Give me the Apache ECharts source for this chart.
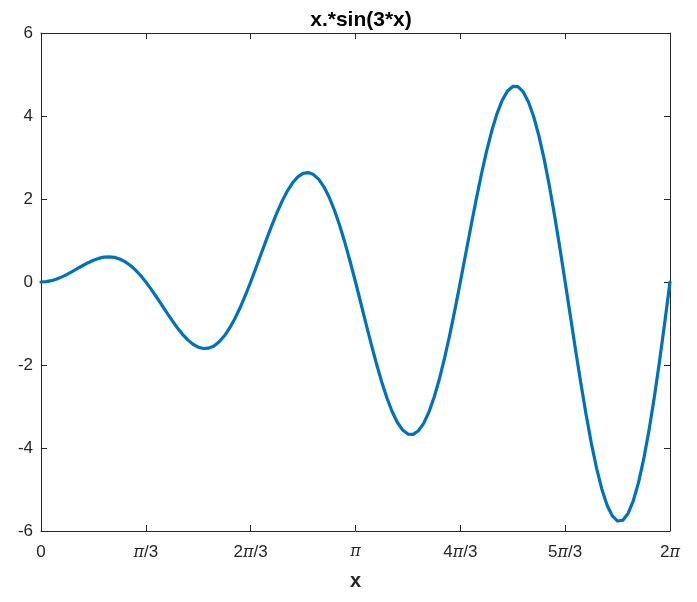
<!DOCTYPE html>
<html><head><meta charset="utf-8">
<script src="https://cdn.jsdelivr.net/npm/echarts@6/dist/echarts.min.js"></script>
<style>html,body{margin:0;padding:0;background:#fff}#c{width:697px;height:602px}</style>
</head><body><div id="c"></div>
<script>
const titleText = 'x.*sin(3*x)';
const xLabelText = 'x';
const xValues = [0,0.0524,0.1047,0.1571,0.2094,0.2618,0.3142,0.3665,0.4189,0.4712,0.5236,0.5760,0.6283,0.6807,0.7330,0.7854,0.8378,0.8901,0.9425,0.9948,1.0472,1.0996,1.1519,1.2043,1.2566,1.3090,1.3614,1.4137,1.4661,1.5184,1.5708,1.6232,1.6755,1.7279,1.7802,1.8326,1.8850,1.9373,1.9897,2.0420,2.0944,2.1468,2.1991,2.2515,2.3038,2.3562,2.4086,2.4609,2.5133,2.5656,2.6180,2.6704,2.7227,2.7751,2.8274,2.8798,2.9322,2.9845,3.0369,3.0892,3.1416,3.1940,3.2463,3.2987,3.3510,3.4034,3.4558,3.5081,3.5605,3.6128,3.6652,3.7176,3.7699,3.8223,3.8746,3.9270,3.9794,4.0317,4.0841,4.1364,4.1888,4.2412,4.2935,4.3459,4.3982,4.4506,4.5029,4.5553,4.6077,4.6600,4.7124,4.7648,4.8171,4.8695,4.9218,4.9742,5.0265,5.0789,5.1313,5.1836,5.2360,5.2884,5.3407,5.3931,5.4454,5.4978,5.5501,5.6025,5.6549,5.7072,5.7596,5.8120,5.8643,5.9167,5.9690,6.0214,6.0737,6.1261,6.1785,6.2308,6.2832];
const yValues = [0,0.008,0.032,0.071,0.123,0.185,0.254,0.327,0.398,0.465,0.524,0.569,0.598,0.606,0.593,0.555,0.492,0.404,0.291,0.156,0,-0.172,-0.356,-0.547,-0.739,-0.926,-1.101,-1.260,-1.394,-1.500,-1.571,-1.603,-1.594,-1.540,-1.440,-1.296,-1.108,-0.880,-0.615,-0.319,0,0.336,0.680,1.022,1.354,1.666,1.949,2.193,2.390,2.534,2.618,2.637,2.589,2.473,2.287,2.036,1.723,1.355,0.938,0.483,0,-0.500,-1.003,-1.498,-1.970,-2.407,-2.796,-3.126,-3.386,-3.568,-3.665,-3.672,-3.585,-3.406,-3.135,-2.777,-2.339,-1.830,-1.262,-0.647,0,0.663,1.327,1.973,2.585,3.147,3.643,4.059,4.382,4.603,4.712,4.706,4.581,4.339,3.982,3.517,2.955,2.306,1.586,0.811,0,-0.827,-1.650,-2.448,-3.201,-3.888,-4.490,-4.992,-5.378,-5.637,-5.760,-5.740,-5.577,-5.272,-4.829,-4.258,-3.570,-2.781,-1.909,-0.975,0];
const xTickLabels = ['0','\u03c0/3','2\u03c0/3','\u03c0','4\u03c0/3','5\u03c0/3','2\u03c0'];
const yTickLabels = ['-6','-4','-2','0','2','4','6'];

const PI = Math.PI;
const axisColor = '#262626';
const font = 'Liberation Sans, Arial, Helvetica, sans-serif';

function xFmt(v){
  const i = Math.round(v/(PI/3));
  const s = xTickLabels[i] || '';
  return s.split('\u03c0').join('{p|\u03c0}');
}

const chart = echarts.init(document.getElementById('c'), null, {renderer:'canvas'});
const common = {
  axisLine:{show:true, onZero:false, lineStyle:{color:axisColor, width:1}},
  axisTick:{show:true, inside:true, length:6, lineStyle:{color:axisColor, width:1}},
  splitLine:{show:false}
};
chart.setOption({
  animation:false,
  backgroundColor:'#fff',
  title:{text:titleText, left:356, top:5, textAlign:'center',
    textStyle:{fontFamily:font, fontSize:21, fontWeight:'bold', color:'#000'}},
  grid:{left:41, right:27, top:33, bottom:71, containLabel:false},
  xAxis:[
    Object.assign({type:'value', position:'bottom', min:0, max:2*PI, interval:PI/3,
      name:xLabelText, nameLocation:'middle', nameGap:40,
      nameTextStyle:{fontFamily:font, fontSize:20, fontWeight:'bold', color:axisColor},
      axisLabel:{formatter:xFmt, margin:13, fontFamily:font, fontSize:17, color:axisColor,
        rich:{p:{fontFamily:'DejaVu Serif, Liberation Serif, serif', fontSize:16, fontStyle:'italic', color:axisColor}}}
    }, common),
    Object.assign({type:'value', position:'top', min:0, max:2*PI, interval:PI/3,
      axisLabel:{show:false}}, common)
  ],
  yAxis:[
    Object.assign({type:'value', position:'left', min:-6, max:6, interval:2,
      axisLabel:{formatter:function(v){const i=Math.round((v+6)/2);return yTickLabels[i]||'';}, margin:8, fontFamily:font, fontSize:17, color:axisColor}
    }, common),
    Object.assign({type:'value', position:'right', min:-6, max:6, interval:2,
      axisLabel:{show:false}}, common)
  ],
  series:[{
    type:'line', xAxisIndex:0, yAxisIndex:0,
    data: xValues.map((x,i)=>[x, yValues[i]]),
    smooth:false, showSymbol:false, symbol:'none',
    lineStyle:{color:'#0072BD', width:3.2, join:'round', cap:'round'}
  }]
});
</script></body></html>
